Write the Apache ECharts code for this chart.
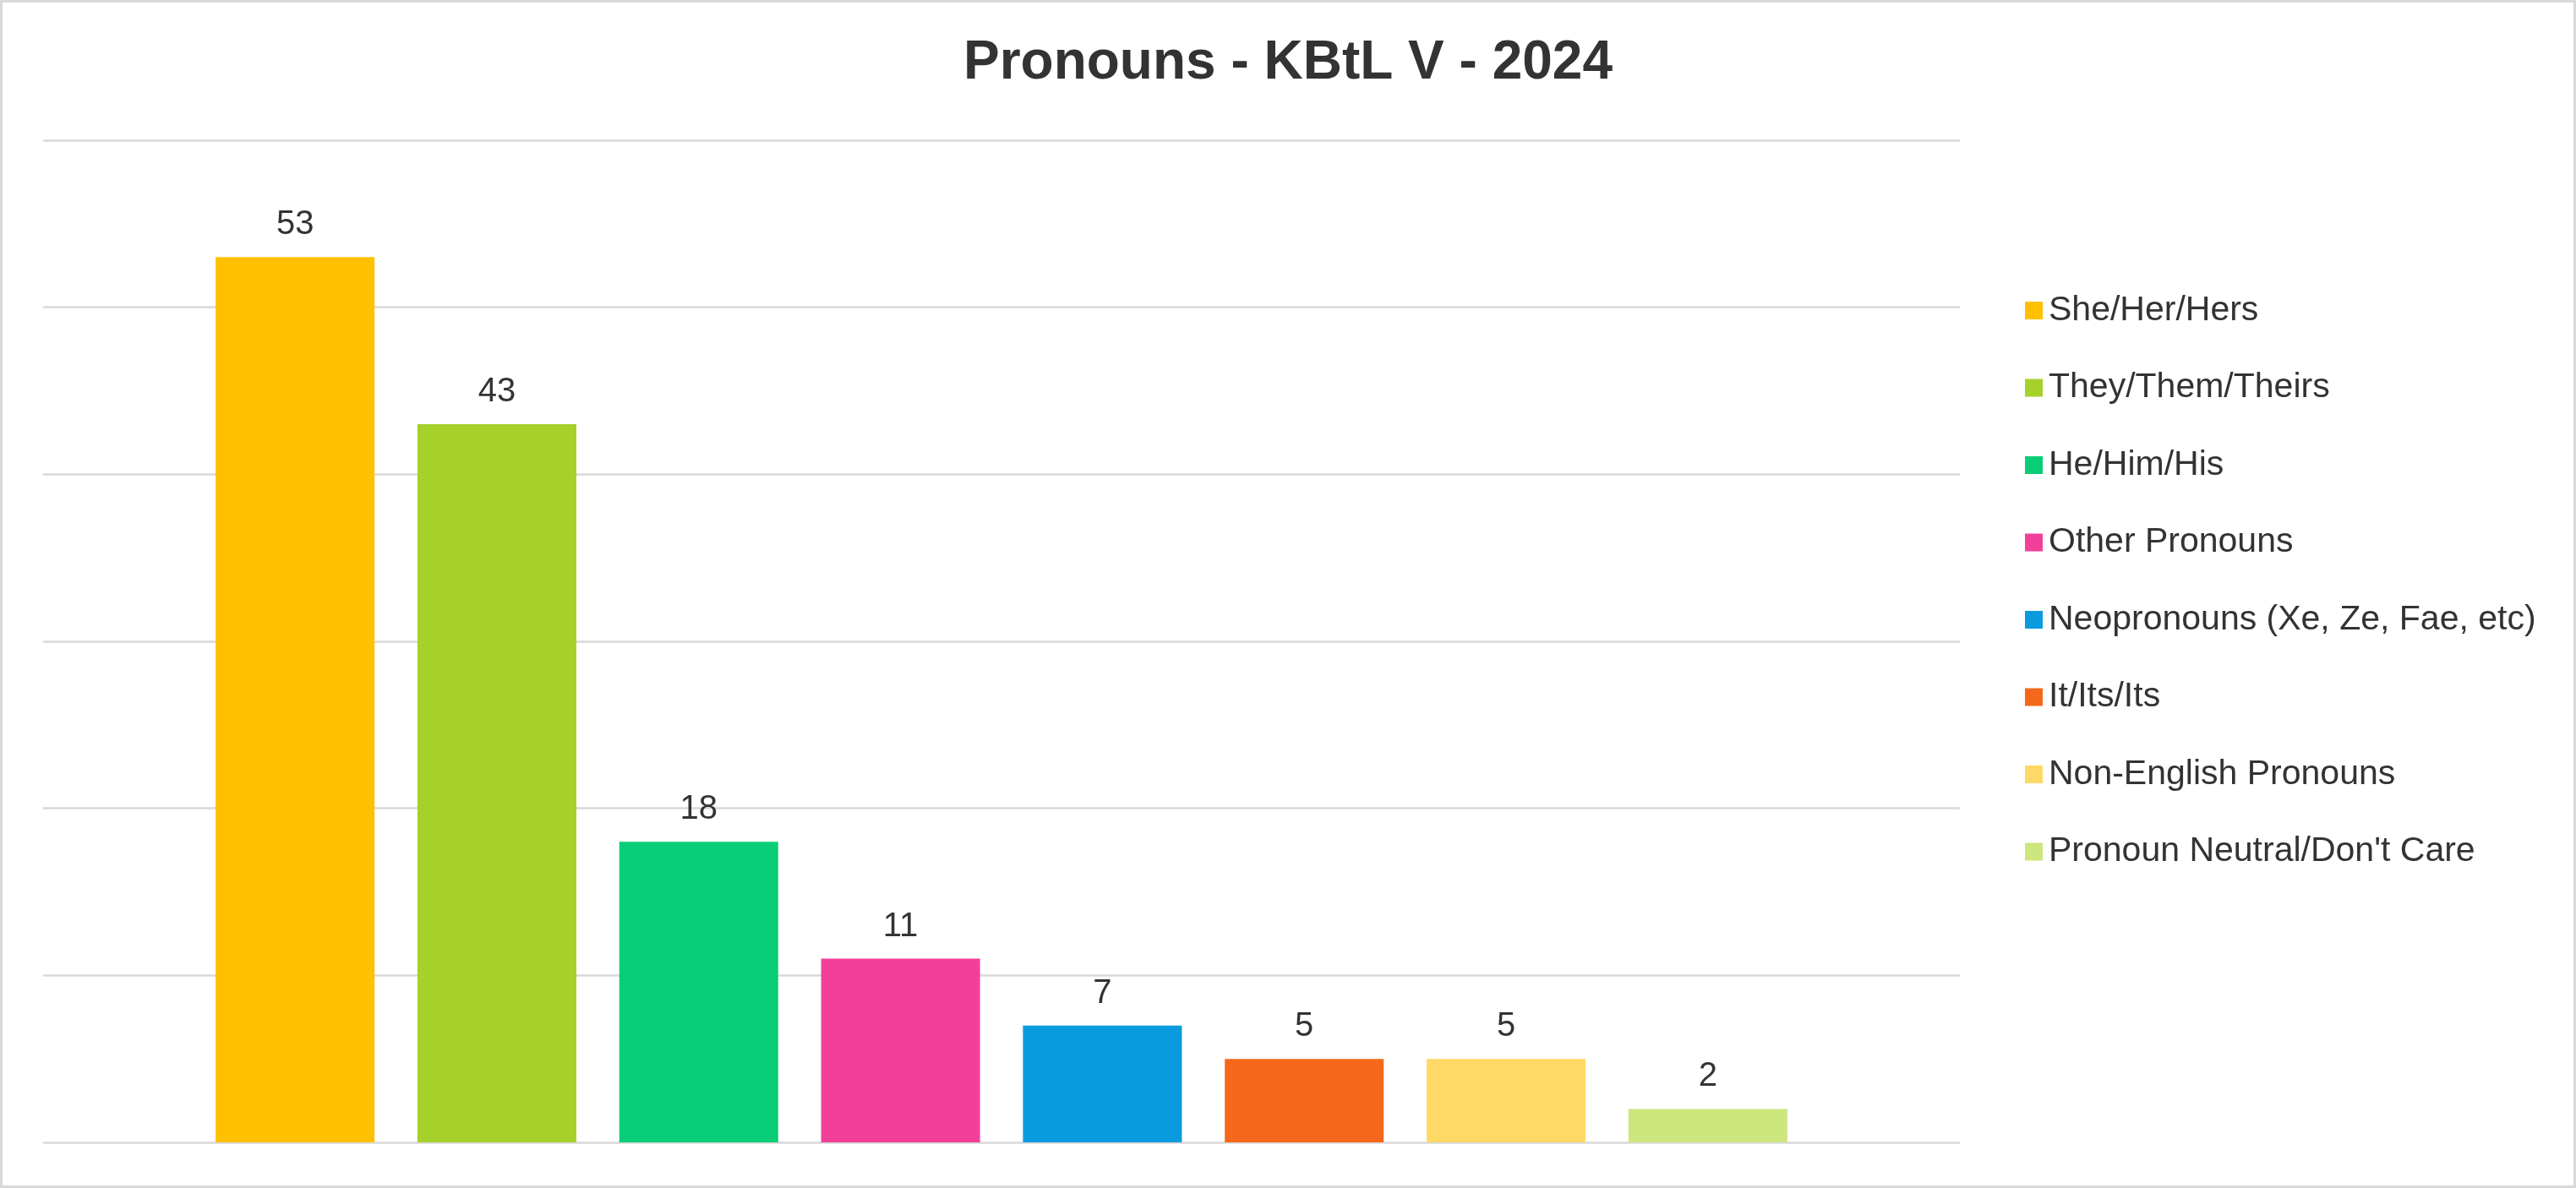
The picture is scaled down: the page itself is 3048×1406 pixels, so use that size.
<!DOCTYPE html>
<html>
<head>
<meta charset="utf-8">
<script src="https://cdn.jsdelivr.net/npm/echarts@6/dist/echarts.min.js"></script>
<style>
html,body{margin:0;padding:0;background:#fff;}
#chart{width:3048px;height:1406px;box-sizing:border-box;border:3px solid #d9d9d9;}
</style>
</head>
<body>
<div id="chart"></div>
<script>
const titleText = 'Pronouns - KBtL V - 2024';
const seriesNames = ['She/Her/Hers','They/Them/Theirs','He/Him/His','Other Pronouns','Neopronouns (Xe, Ze, Fae, etc)','It/Its/Its','Non-English Pronouns','Pronoun Neutral/Don\'t Care'];
const seriesValues = [53, 43, 18, 11, 7, 5, 5, 2];
const seriesColors = ['#FFC000','#A6D12A','#0ACD77','#F2409A','#0A9BDF','#F5681C','#FFD966','#CDE67D'];
const categories = [''];

const chart = echarts.init(document.getElementById('chart'), null, {renderer:'canvas'});
const font = '"Liberation Sans", Arial, sans-serif';
const series = seriesNames.map((n, i) => ({
  name: n,
  type: 'bar',
  data: [seriesValues[i]],
  itemStyle: {color: seriesColors[i]},
  barGap: '27%',
  barCategoryGap: '18%',
  label: {show: true, position: 'top', distance: 18, fontSize: 40, color: '#333', fontFamily: font},
  animation: false
}));
chart.setOption({
  backgroundColor: '#fff',
  animation: false,
  title: {text: titleText, left: 'center', top: 35, textStyle: {fontSize: 64, fontWeight: 'bold', color: '#333', fontFamily: font}},
  grid: {left: 48, right: 726, top: 163, bottom: 51, containLabel: false},
  legend: {
    orient: 'vertical', left: 2388, top: 339,
    itemWidth: 21, itemHeight: 21, itemGap: 50.5,
    icon: 'rect',
    textStyle: {fontSize: 41, color: '#333', fontFamily: font, lineHeight: 41, padding: [0,0,0,2]},
    data: seriesNames
  },
  xAxis: {type: 'category', data: categories, axisLine: {show: false}, axisTick: {show: false}, axisLabel: {show: false}},
  yAxis: {type: 'value', min: 0, max: 60, interval: 10, axisLabel: {show: false}, axisLine: {show: false}, axisTick: {show: false},
    splitLine: {lineStyle: {color: '#d9d9d9', width: 2.5}}},
  series: series
});
</script>
</body>
</html>
